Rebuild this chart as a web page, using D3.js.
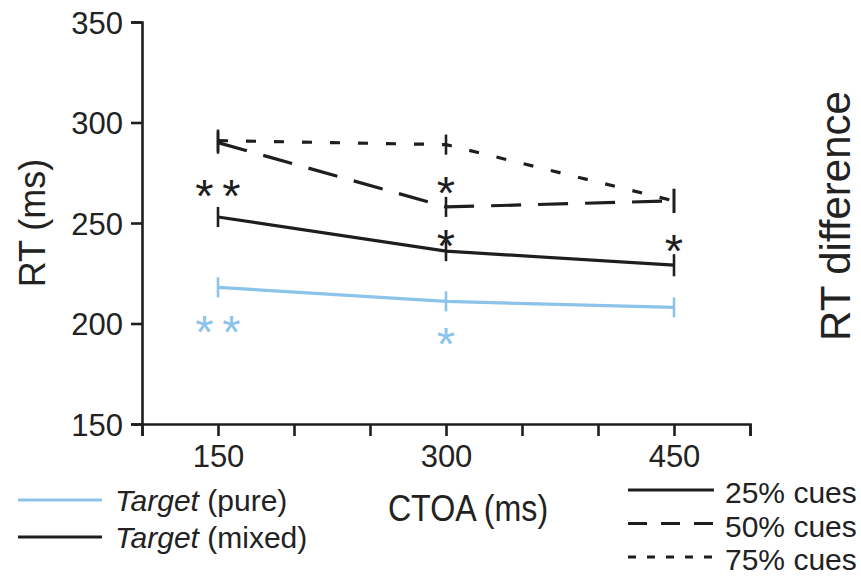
<!DOCTYPE html>
<html>
<head>
<meta charset="utf-8">
<script src="https://cdn.jsdelivr.net/npm/d3@7"></script>
<style>
  html, body { margin: 0; padding: 0; background: #fff; }
  svg { display: block; }
  text { font-family: "Liberation Sans", Arial, Helvetica, sans-serif; fill: #222; }
</style>
</head>
<body>
<svg id="chart" width="861" height="576"></svg>
<script>
// Cue-target onset asynchrony (ms)
const ctoa = [150, 300, 450];

// Mean RT (ms) per condition
const pureRT     = [218, 211, 208];
const mixed25RT  = [253, 236, 229];
const mixed50RT  = [290, 258, 261];
const mixed75RT  = [291, 289, 261];

// Error bar half-widths (ms)
const pureErr    = [5, 5, 5];
const mixed25Err = [5, 5, 5.5];
const mixed50Err = [5.5, 5, 6];
const mixed75Err = [5.5, 5, 6];

// Axis ticks
const yTicks = [150, 200, 250, 300, 350];
const xTicks = [100, 150, 200, 250, 300, 350, 400, 450, 500];
const xTickLabels = [150, 300, 450];

// Significance markers: [ctoa, RT position, count]
const starsMixed = [[150, 269, 2], [300, 270.5, 1], [300, 244, 1], [450, 241.5, 1]];
const starsPure  = [[150, 201, 2], [300, 195.5, 1]];

const legendGroups = ["Target (pure)", "Target (mixed)"];
const legendCues = ["25% cues", "50% cues", "75% cues"];

const blue = "#8cc3ea";
const ink = "#1e1e1e";

const svg = d3.select("#chart");

const x = d3.scaleLinear().domain([100, 500]).range([142, 750]);
const y = d3.scaleLinear().domain([150, 350]).range([424, 22]);

// Axes
const yAxis = d3.axisLeft(y).tickValues(yTicks).tickSize(11).tickPadding(8).tickFormat(d3.format("d"));
const xAxis = d3.axisBottom(x).tickValues(xTicks).tickSize(12).tickPadding(5)
  .tickFormat(d => xTickLabels.includes(d) ? d : "");

const gy = svg.append("g").attr("transform", `translate(${x(100)},0)`).call(yAxis);
const gx = svg.append("g").attr("transform", `translate(0,${y(150)})`).call(xAxis);
[gy, gx].forEach(g => {
  g.select(".domain").attr("stroke", ink).attr("stroke-width", 2.6);
  g.selectAll(".tick line").attr("stroke", ink).attr("stroke-width", 2.6);
  g.selectAll(".tick text").attr("fill", "#2a2a2a").style("font-size", "31px")
    .style("font-family", "'Liberation Sans', Arial, sans-serif");
});
gy.selectAll(".tick text").attr("dy", "0.36em");
gx.selectAll(".tick text").attr("dy", "0.85em");

// Axis titles
svg.append("text")
  .attr("transform", `translate(45,${y(250) + 0})rotate(-90)`)
  .attr("text-anchor", "middle")
  .style("font-size", "36px")
  .text("RT (ms)");

svg.append("text")
  .attr("transform", "translate(468,521)scale(0.87,1)")
  .attr("text-anchor", "middle")
  .style("font-size", "37px")
  .text("CTOA (ms)");

// Label of the adjacent panel, cut by the right edge
svg.append("text")
  .attr("transform", `translate(850,216)rotate(-90)`)
  .attr("text-anchor", "middle")
  .style("font-size", "42px")
  .text("RT difference");

// Series
const series = [
  { values: pureRT,    err: pureErr,    color: blue, dash: null },
  { values: mixed25RT, err: mixed25Err, color: ink,  dash: null },
  { values: mixed50RT, err: mixed50Err, color: ink,  dash: "30,17" },
  { values: mixed75RT, err: mixed75Err, color: ink,  dash: "10,18" }
];

const line = d3.line().x((d, i) => x(ctoa[i])).y(d => y(d));

series.forEach(s => {
  svg.append("path")
    .datum(s.values)
    .attr("fill", "none")
    .attr("stroke", s.color)
    .attr("stroke-width", 3.2)
    .attr("stroke-dasharray", s.dash)
    .attr("d", line);

  svg.append("g").selectAll("line")
    .data(s.values)
    .join("line")
    .attr("x1", (d, i) => x(ctoa[i]))
    .attr("x2", (d, i) => x(ctoa[i]))
    .attr("y1", (d, i) => y(d + s.err[i]))
    .attr("y2", (d, i) => y(d - s.err[i]))
    .attr("stroke", s.color)
    .attr("stroke-width", 2.6);
});

// Significance asterisks
function drawStars(list, color) {
  list.forEach(([c, v, n]) => {
    const offsets = n === 2 ? [-13.5, 13.5] : [0];
    offsets.forEach(o => {
      svg.append("text")
        .attr("x", x(c) + o)
        .attr("y", y(v) + 27)
        .attr("text-anchor", "middle")
        .style("font-size", "47px")
        .style("fill", color)
        .text("*");
    });
  });
}
drawStars(starsMixed, ink);
drawStars(starsPure, blue);

// Legend: pure vs mixed blocks
const legL = svg.append("g");
legendGroups.forEach((lab, i) => {
  const yy = 500 + i * 37;
  legL.append("line")
    .attr("x1", 18).attr("x2", 102).attr("y1", yy).attr("y2", yy)
    .attr("stroke", i === 0 ? blue : ink).attr("stroke-width", 3.2);
  const t = legL.append("text").attr("x", 115).attr("y", yy + 11).style("font-size", "30px");
  const parts = lab.split(" ");
  t.append("tspan").style("font-style", "italic").text(parts[0]);
  t.append("tspan").text(" " + parts.slice(1).join(" "));
});

// Legend: cue proportion line styles
const cueDash = [null, "19,14", "8,11"];
const legR = svg.append("g");
legendCues.forEach((lab, i) => {
  const yy = 490 + i * 33.5;
  legR.append("line")
    .attr("x1", 628).attr("x2", 714).attr("y1", yy).attr("y2", yy)
    .attr("stroke", ink).attr("stroke-width", 3.2)
    .attr("stroke-dasharray", cueDash[i]);
  legR.append("text").attr("x", 725).attr("y", yy + 13)
    .style("font-size", "30px").text(lab);
});
</script>
</body>
</html>
